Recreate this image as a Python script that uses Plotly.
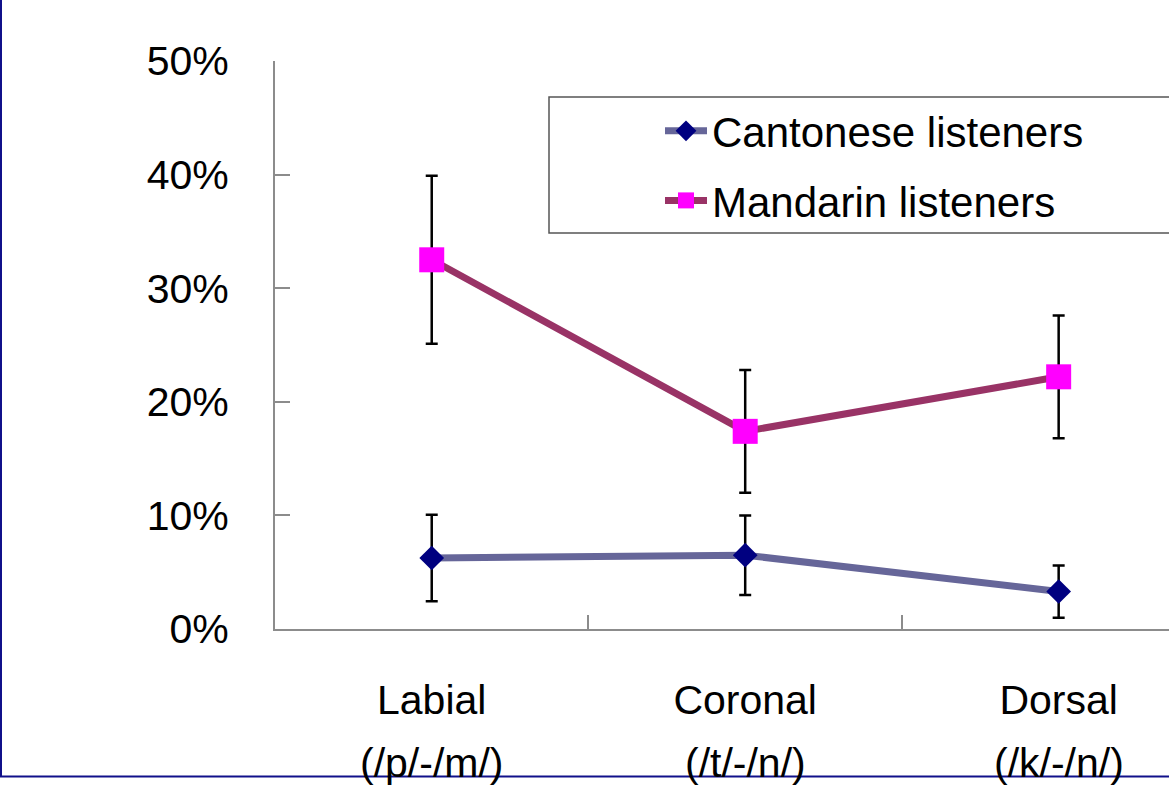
import plotly.graph_objects as go

categories = ["Labial", "Coronal", "Dorsal"]
place_labels = ["(/p/-/m/)", "(/t/-/n/)", "(/k/-/n/)"]

cantonese = [0.0625, 0.065, 0.033]
cantonese_err = [0.038, 0.035, 0.023]

mandarin = [0.325, 0.174, 0.222]
mandarin_err = [0.074, 0.054, 0.054]

FONT = "Liberation Sans, Arial, sans-serif"
W, H = 1169, 788
L, R, T, B = 275, 0, 61, 159
PW = W - L - R
PH = H - T - B


def px_x(px):
    return (px - L) / PW


def px_y(py):
    return (H - B - py) / PH


fig = go.Figure()

fig.add_trace(go.Scatter(
    x=categories, y=cantonese, name="Cantonese listeners",
    mode="lines+markers", legendgroup="c",
    line=dict(color="#666699", width=7),
    marker=dict(symbol="diamond", size=19, color="#000080", line=dict(width=0)),
    error_y=dict(type="data", array=cantonese_err, visible=True,
                 color="black", thickness=2.5, width=6),
))
fig.add_trace(go.Scatter(
    x=categories, y=mandarin, name="Mandarin listeners",
    mode="lines+markers", legendgroup="m",
    line=dict(color="#993366", width=7),
    marker=dict(symbol="square", size=25, color="#FF00FF", line=dict(width=0)),
    error_y=dict(type="data", array=mandarin_err, visible=True,
                 color="black", thickness=2.5, width=6),
))

for cat, lab in zip(categories, place_labels):
    fig.add_annotation(x=cat, xref="x", y=0, yref="y", yanchor="top",
                       yshift=-109, text=lab, showarrow=False,
                       font=dict(family=FONT, size=41, color="black"))

# legend box
fig.add_shape(type="rect", xref="paper", yref="paper",
              x0=px_x(549), x1=1.05, y0=px_y(233), y1=px_y(97),
              line=dict(color="#555555", width=1.5), layer="below")

# outer navy frame lines
fig.add_shape(type="line", xref="paper", yref="paper",
              x0=px_x(1), x1=px_x(1), y0=px_y(776.5), y1=px_y(-10),
              line=dict(color="#10108a", width=2))
fig.add_shape(type="line", xref="paper", yref="paper",
              x0=px_x(-10), x1=px_x(1180), y0=px_y(776.5), y1=px_y(776.5),
              line=dict(color="#10108a", width=2))

fig.update_layout(
    width=W, height=H,
    margin=dict(l=L, r=R, t=T, b=B, pad=0),
    paper_bgcolor="white", plot_bgcolor="white",
    font=dict(family=FONT, size=41, color="black"),
    showlegend=True,
    legend=dict(x=px_x(660), y=px_y(97), xanchor="left", yanchor="top",
                bgcolor="rgba(0,0,0,0)", borderwidth=0,
                font=dict(family=FONT, size=42, color="black"),
                traceorder="grouped", tracegroupgap=12,
                itemsizing="trace", itemwidth=42),
    xaxis=dict(type="category", categoryorder="array", categoryarray=categories,
               range=[-0.5, 2.352], showgrid=False, zeroline=False,
               showline=True, linecolor="#8c8c8c", linewidth=2,
               ticks="inside", tickson="boundaries", ticklen=14,
               tickcolor="#8c8c8c", tickwidth=2,
               ticklabelstandoff=34,
               tickfont=dict(family=FONT, size=41, color="black")),
    yaxis=dict(range=[0, 0.5], dtick=0.1, tickformat=".0%",
               showgrid=False, zeroline=False,
               showline=True, linecolor="#8c8c8c", linewidth=2,
               ticks="inside", ticklen=15, tickcolor="#8c8c8c", tickwidth=2,
               ticklabelstandoff=36,
               tickfont=dict(family=FONT, size=41, color="black")),
)

fig.write_html("out.html",
               config={"displayModeBar": False},
               post_script="document.body.style.margin='0';document.body.style.overflow='hidden';")
